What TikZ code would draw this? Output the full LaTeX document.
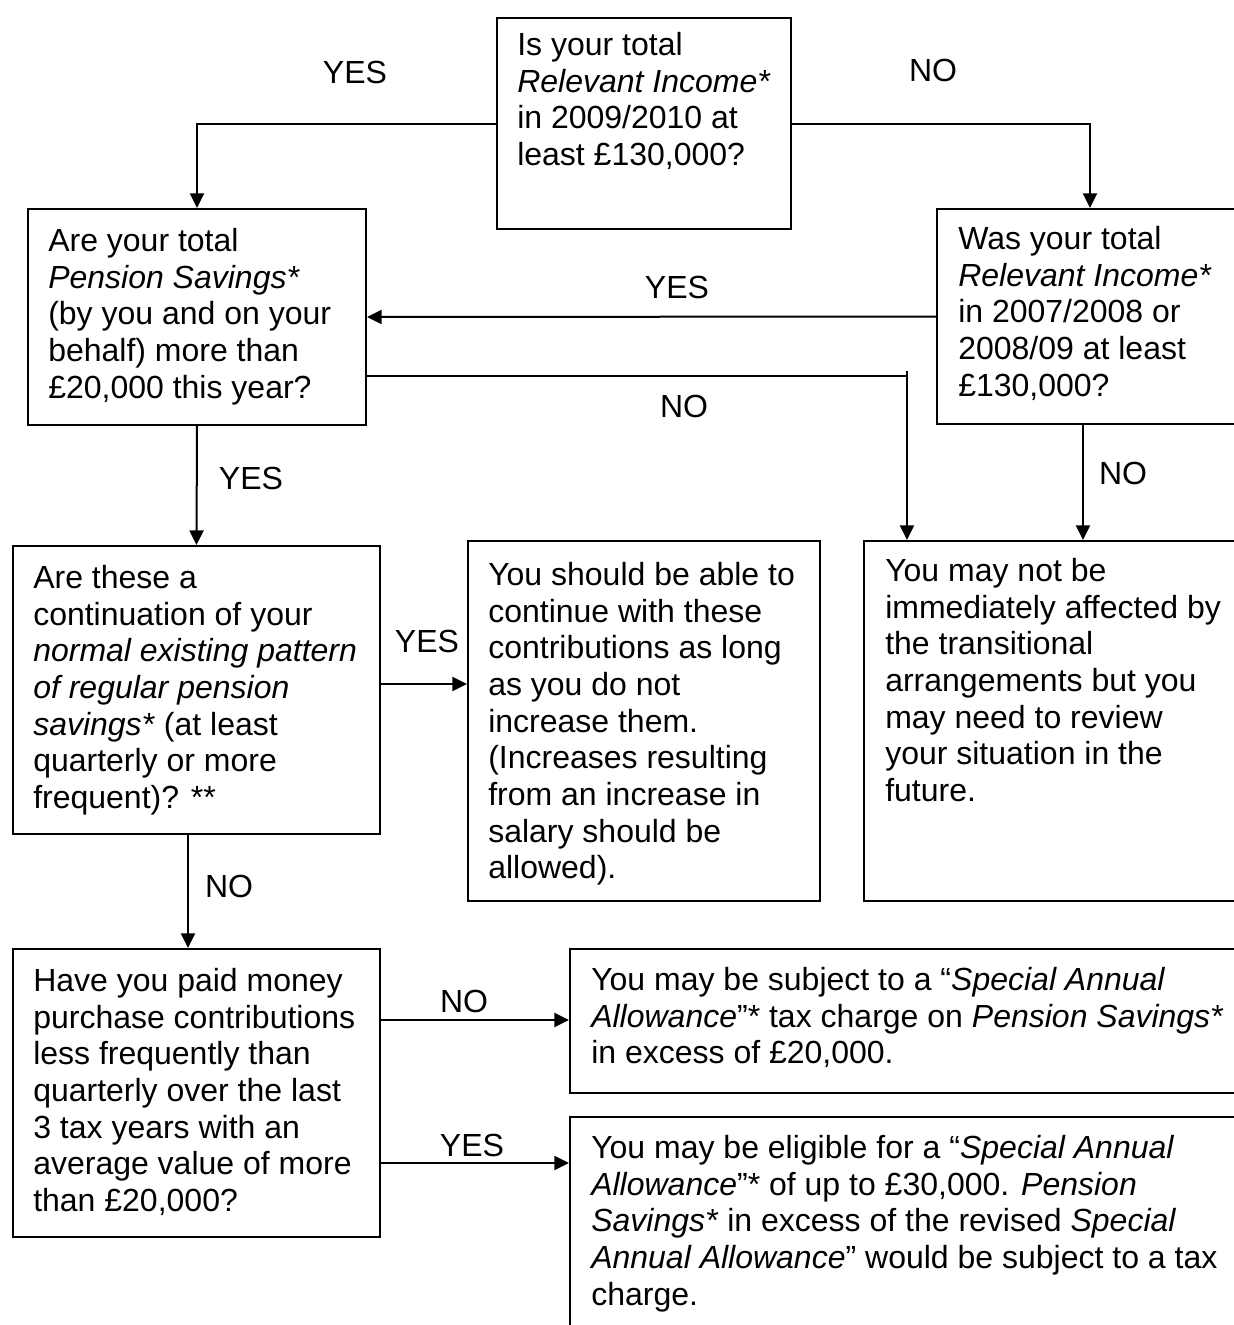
\documentclass[tikz,border=0pt]{standalone}
\usepackage{fontspec}
\setmainfont{Liberation Sans}
\usetikzlibrary{arrows.meta,calc}
\begin{document}
\begin{tikzpicture}[x=0.75pt,y=-0.75pt,
  every node/.style={font=\fontsize{24}{27.5}\selectfont},
  bx/.style 2 args={draw, line width=1.5pt, rectangle, anchor=north west, inner sep=0pt,
    minimum width=#1*0.75pt, minimum height=#2*0.75pt},
  txt/.style={anchor=north west, inner sep=0pt, align=left},
  lbl/.style={inner sep=0pt},
  con/.style={line width=1.5pt},
  arr/.style={line width=1.5pt, -{Triangle[length=11pt,width=10.5pt]}}]
\useasboundingbox (0,0) rectangle (1234,1325);

% boxes
\node[bx={294}{211}] (b0) at (496,17) {};
\node[bx={338}{216}] (b2) at (27,208) {};
\node[bx={314}{215}] (b3) at (936,208) {};
\node[bx={367}{288}] (b4) at (12,545) {};
\node[bx={352}{360}] (b5) at (467,540) {};
\node[bx={387}{360}] (b6) at (863,540) {};
\node[bx={367}{288}] (b7) at (12,948) {};
\node[bx={681}{144}] (b8) at (569,948) {};
\node[bx={681}{230}] (b9) at (569,1116) {};

% texts
\node[txt] (t0) at (517,32) {Is your total\\\textit{Relevant Income*}\\in 2009/2010 at\\least £130,000?};
\node[txt] (t2) at (48,228) {Are your total\\\textit{Pension Savings*}\\(by you and on your\\behalf) more than\\£20,000 this year?};
\node[txt] (t3) at (958,226) {Was your total\\\textit{Relevant Income*}\\in 2007/2008 or\\2008/09 at least\\£130,000?};
\node[txt] (t4) at (33,565) {Are these a\\continuation of your\\\textit{normal existing pattern}\\\textit{of regular pension}\\\textit{savings*} (at least\\quarterly or more\\frequent)? **};
\node[txt] (t5) at (488,562) {You should be able to\\continue with these\\contributions as long\\as you do not\\increase them.\\(Increases resulting\\from an increase in\\salary should be\\allowed).};
\node[txt] (t6) at (885,558) {You may not be\\immediately affected by\\the transitional\\arrangements but you\\may need to review\\your situation in the\\future.};
\node[txt] (t7) at (33,968) {Have you paid money\\purchase contributions\\less frequently than\\quarterly over the last\\3 tax years with an\\average value of more\\than £20,000?};
\node[txt] (t8) at (591,967) {You may be subject to a “\textit{Special Annual}\\\textit{Allowance}”* tax charge on \textit{Pension Savings*}\\in excess of £20,000.};
\node[txt] (t9) at (591,1135) {You may be eligible for a “\textit{Special Annual}\\\textit{Allowance}”* of up to £30,000. \textit{Pension}\\\textit{Savings*} in excess of the revised \textit{Special}\\\textit{Annual Allowance}” would be subject to a tax\\charge.};

% labels
\node[lbl] (l1) at (355,72) {YES};
\node[lbl] (l2) at (933,70) {NO};
\node[lbl] (l3) at (677,287) {YES};
\node[lbl] (l4) at (684,406) {NO};
\node[lbl] (l5) at (251,478) {YES};
\node[lbl] (l6) at (1123,473) {NO};
\node[lbl] (l7) at (427,641) {YES};
\node[lbl] (l8) at (229,886) {NO};
\node[lbl] (l9) at (464,1001) {NO};
\node[lbl] (l10) at (472,1145) {YES};

% connector helper coordinates
\coordinate (c1) at (1090,122);
\coordinate (n1) at (907,376);
\coordinate (n1t) at (907,371);
\coordinate (c3) at (1083,0);
\coordinate (c4) at (0,684);
\coordinate (c5) at (188,0);
\coordinate (c7a) at (0,1020);
\coordinate (c7b) at (0,1163);

% connectors
\draw[arr] (b0.west) -| (b2.north);
\draw[arr] (b0.east) -| (b3.north -| c1);
\draw[arr] (b3.west) -- (b2.east);
\draw[con] (b2.east |- n1) -- (n1);
\draw[arr] (n1t) -- (b6.north -| n1);
\draw[arr] (b3.south -| c3) -- (b6.north -| c3);
\draw[arr] (b2.south) -- (b4.north);
\draw[arr] (b4.east |- c4) -- (b5.west |- c4);
\draw[arr] (b4.south -| c5) -- (b7.north -| c5);
\draw[arr] (b7.east |- c7a) -- (b8.west |- c7a);
\draw[arr] (b7.east |- c7b) -- (b9.west |- c7b);
\end{tikzpicture}
\end{document}
